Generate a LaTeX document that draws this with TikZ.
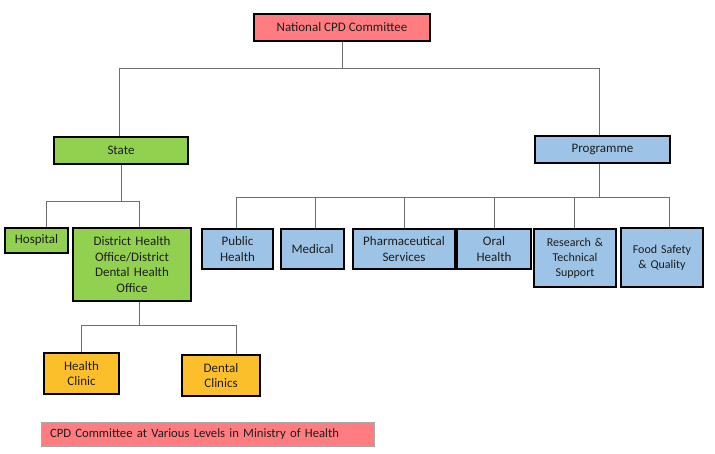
\documentclass[tikz,border=0pt]{standalone}
\usepackage{fontspec}
\setmainfont{Carlito}
\usepackage{tikz}
\usetikzlibrary{positioning}
\usepackage{xcolor}

\definecolor{cpdred}{HTML}{FF7C80}
\definecolor{stgreen}{HTML}{92D050}
\definecolor{prblue}{HTML}{9DC3E6}
\definecolor{clorange}{HTML}{FCBF2C}
\definecolor{lnk}{HTML}{6E6E6E}
\definecolor{txt}{HTML}{1E1E1E}

\tikzset{
  unit/.style={draw=black, line width=1.3pt, align=center, inner sep=2pt, text=txt, font=\fontsize{13}{15.5}\selectfont},
  natbox/.style={unit, fill=cpdred},
  stbox/.style={unit, fill=stgreen},
  prbox/.style={unit, fill=prblue},
  clbox/.style={unit, fill=clorange},
  link/.style={draw=lnk, line width=0.8pt}
}

\begin{document}
\begin{tikzpicture}[x=1pt, y=-1pt]
\useasboundingbox (0,0) rectangle (715,454);
% top level
\node[natbox, minimum width=176pt, minimum height=27pt] (ncc) at (342,27.5) {National CPD Committee};
\node[stbox, minimum width=134pt, minimum height=27pt] (state) at (121,150.5) {State};
\node[prbox, minimum width=135pt, minimum height=27pt] (prog) at (602.5,149.5) {Programme};
% state branch
\node[stbox, minimum width=63pt, minimum height=25pt] (hosp) at (36.5,240.5) {Hospital};
\node[stbox, minimum width=118pt, minimum height=73pt, text width=112pt] (dho) at (132,264.5) {District Health\\Office/District\\Dental Health\\Office};
\node[clbox, minimum width=75pt, minimum height=41pt, text width=70pt] (hclin) at (81.5,373.5) {Health\\Clinic};
\node[clbox, minimum width=78pt, minimum height=41pt, text width=72pt] (dclin) at (221,375.5) {Dental\\Clinics};
% programme branch
\node[prbox, minimum width=71pt, minimum height=40pt, text width=66pt] (pub) at (237.5,249) {Public\\Health};
\node[prbox, minimum width=63pt, minimum height=40pt] (med) at (312.5,249) {Medical};
\node[prbox, minimum width=102pt, minimum height=40pt, text width=96pt] (pharm) at (404,249) {Pharmaceutical\\Services};
\node[prbox, minimum width=74pt, minimum height=40pt, text width=68pt] (oral) at (494,249) {Oral\\Health};
\node[prbox, minimum width=82pt, minimum height=58pt, text width=76pt, font=\fontsize{12}{15}\selectfont] (rts) at (575,258) {Research \&\\Technical\\Support};
\node[prbox, minimum width=82pt, minimum height=59pt, text width=76pt, font=\fontsize{12}{15}\selectfont] (fsq) at (662,257.5) {Food Safety\\\& Quality};
% legend
\node[fill=cpdred, draw=lnk!60, line width=0.6pt, minimum width=333pt, minimum height=24pt, text width=315pt, align=left, text=txt, font=\fontsize{12.7}{15}\selectfont] (leg) at (207.5,434) {CPD Committee at Various Levels in Ministry of Health};
% buses
\coordinate (topbus) at (0,68);
\coordinate (stbus) at (0,201);
\coordinate (prbus) at (0,197);
\coordinate (dhbus) at (0,325);
% connectors
\draw[link] (ncc.south) -- (ncc.south |- topbus) -| ([xshift=-2pt]state.north);
\draw[link] (ncc.south) -- (ncc.south |- topbus) -| ([xshift=-3pt]prog.north);
\draw[link] (state.south) -- (state.south |- stbus) -| ([xshift=10pt]hosp.north);
\draw[link] (state.south) -- (state.south |- stbus) -| ([xshift=7pt]dho.north);
\draw[link] ([xshift=7pt]dho.south) -- ([xshift=7pt]dho.south |- dhbus) -| (hclin.north);
\draw[link] ([xshift=7pt]dho.south) -- ([xshift=7pt]dho.south |- dhbus) -| ([xshift=15pt]dclin.north);
\foreach \kid/\dx in {pub/-1.5, med/2.5, pharm/0, oral/0, rts/-1, fsq/7}
  \draw[link] ([xshift=-3pt]prog.south) -- ([xshift=-3pt]prog.south |- prbus) -| ([xshift=\dx pt]\kid.north);
\end{tikzpicture}
\end{document}
